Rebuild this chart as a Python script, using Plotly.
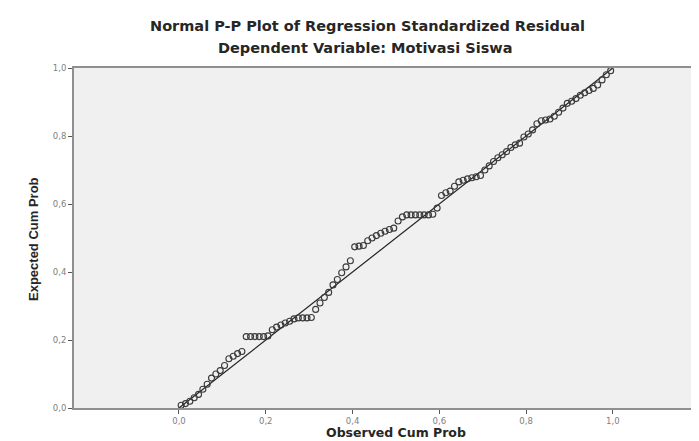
import plotly.graph_objects as go

# Observed cumulative probabilities (x) and expected cumulative probabilities (y)
observed_cum_prob = [
    0.005, 0.015, 0.025, 0.035, 0.045, 0.055, 0.065, 0.075, 0.085, 0.095,
    0.105, 0.115, 0.125, 0.135, 0.145, 0.155, 0.165, 0.175, 0.185, 0.195,
    0.205, 0.215, 0.225, 0.235, 0.245, 0.255, 0.265, 0.275, 0.285, 0.295,
    0.305, 0.315, 0.325, 0.335, 0.345, 0.355, 0.365, 0.375, 0.385, 0.395,
    0.405, 0.415, 0.425, 0.435, 0.445, 0.455, 0.465, 0.475, 0.485, 0.495,
    0.505, 0.515, 0.525, 0.535, 0.545, 0.555, 0.565, 0.575, 0.585, 0.595,
    0.605, 0.615, 0.625, 0.635, 0.645, 0.655, 0.665, 0.675, 0.685, 0.695,
    0.705, 0.715, 0.725, 0.735, 0.745, 0.755, 0.765, 0.775, 0.785, 0.795,
    0.805, 0.815, 0.825, 0.835, 0.845, 0.855, 0.865, 0.875, 0.885, 0.895,
    0.905, 0.915, 0.925, 0.935, 0.945, 0.955, 0.965, 0.975, 0.985, 0.995,
]
expected_cum_prob = [
    0.008, 0.013, 0.020, 0.030, 0.040, 0.055, 0.070, 0.088, 0.100, 0.110,
    0.125, 0.145, 0.152, 0.160, 0.166, 0.210, 0.210, 0.210, 0.210, 0.210,
    0.212, 0.230, 0.238, 0.244, 0.250, 0.255, 0.262, 0.265, 0.265, 0.265,
    0.266, 0.290, 0.309, 0.325, 0.340, 0.362, 0.378, 0.398, 0.415, 0.433,
    0.474, 0.476, 0.478, 0.492, 0.500, 0.507, 0.514, 0.520, 0.525, 0.529,
    0.550, 0.562, 0.568, 0.568, 0.568, 0.568, 0.568, 0.568, 0.570, 0.588,
    0.625, 0.633, 0.638, 0.652, 0.665, 0.670, 0.674, 0.677, 0.680, 0.684,
    0.700, 0.712, 0.725, 0.736, 0.745, 0.754, 0.766, 0.774, 0.779, 0.797,
    0.806, 0.818, 0.836, 0.845, 0.847, 0.850, 0.858, 0.870, 0.882, 0.896,
    0.902, 0.910, 0.920, 0.927, 0.934, 0.940, 0.950, 0.965, 0.980, 0.992,
]

reference_line_x = [0.0, 1.0]
reference_line_y = [0.0, 1.0]

tick_vals = [0.0, 0.2, 0.4, 0.6, 0.8, 1.0]
tick_text = ["0,0", "0,2", "0,4", "0,6", "0,8", "1,0"]

title_main = "Normal P-P Plot of Regression Standardized Residual"
title_sub = "Dependent Variable: Motivasi Siswa"
x_title = "Observed Cum Prob"
y_title = "Expected Cum Prob"

L, R, T, B, W, H = 66, 0, 60, 41, 699, 441
plot_w = W - L - R
plot_h = H - T - B

def px_x(px):
    return (px - L) / plot_w

def px_y(py):
    return (H - B - py) / plot_h

fig = go.Figure()
fig.add_trace(go.Scatter(
    x=reference_line_x, y=reference_line_y, mode="lines",
    line=dict(color="#222222", width=1.2), hoverinfo="skip", showlegend=False,
))
fig.add_trace(go.Scatter(
    x=observed_cum_prob, y=expected_cum_prob, mode="markers",
    marker=dict(symbol="circle-open", size=6, color="#3a3a3a", line=dict(width=1.1)),
    showlegend=False,
))

tick_font = dict(family="DejaVu Sans, sans-serif", size=8.5, color="#808080")
wide_bold = "DejaVu Sans, sans-serif"

fig.update_layout(
    width=W, height=H,
    margin=dict(l=L, r=R, t=T, b=B),
    paper_bgcolor="white",
    plot_bgcolor="#f0f0f0",
    xaxis=dict(
        range=[-0.242, 1.217], tickvals=tick_vals, ticktext=tick_text,
        showgrid=False, zeroline=False, showline=True, linecolor="#8f8f8f",
        linewidth=2, mirror=True, ticks="outside", ticklen=4, tickcolor="#555555",
        tickwidth=1, tickfont=tick_font,
    ),
    yaxis=dict(
        range=[0, 1], tickvals=tick_vals, ticktext=tick_text,
        showgrid=False, zeroline=False, showline=True, linecolor="#8f8f8f",
        linewidth=2, ticks="outside", ticklen=4, tickcolor="#555555",
        tickwidth=1, tickfont=tick_font,
    ),
)

fig.add_annotation(text="<b>" + title_main + "</b>", xref="paper", yref="paper",
                   x=px_x(359), y=px_y(18), showarrow=False, xanchor="center", yanchor="middle",
                   font=dict(family=wide_bold, size=14.5, color="#262626"))
fig.add_annotation(text="<b>" + title_sub + "</b>", xref="paper", yref="paper",
                   x=px_x(357), y=px_y(40), showarrow=False, xanchor="center", yanchor="middle",
                   font=dict(family=wide_bold, size=14.5, color="#262626"))
fig.add_annotation(text="<b>" + x_title + "</b>", xref="paper", yref="paper",
                   x=px_x(388), y=px_y(424), showarrow=False, xanchor="center", yanchor="middle",
                   borderpad=0,
                   font=dict(family=wide_bold, size=12.5, color="#262626"))
fig.add_annotation(text="<b>" + y_title + "</b>", xref="paper", yref="paper",
                   x=px_x(25), y=px_y(231), showarrow=False, xanchor="center", yanchor="middle",
                   textangle=-90,
                   font=dict(family="Liberation Sans, Arial, sans-serif", size=13, color="#262626"))

fig.write_html("out.html")
